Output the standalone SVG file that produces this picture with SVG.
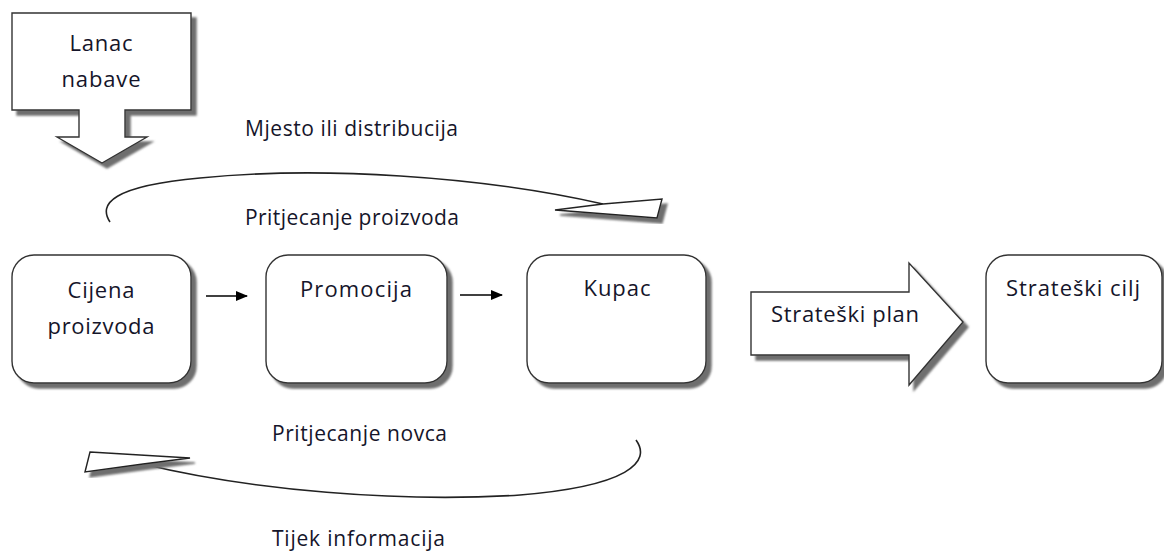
<svg xmlns="http://www.w3.org/2000/svg" width="1164" height="552" viewBox="0 0 1164 552">
<defs>
<filter id="sh" x="-10%" y="-10%" width="130%" height="140%">
<feDropShadow dx="5" dy="5" stdDeviation="1" flood-color="#6e6e6e" flood-opacity="1"/>
</filter>
<marker id="ah" markerWidth="12" markerHeight="10" refX="11" refY="5" orient="auto" markerUnits="userSpaceOnUse">
<path d="M0,0 L12,5 L0,10 Z" fill="#000"/>
</marker>
<style>
.box{fill:#fff;stroke:#333;stroke-width:1.4;filter:url(#sh)}
.t{font-family:"Open Sans","Liberation Sans",sans-serif;font-size:22px;fill:#15152a;text-anchor:middle}
.lbl{font-family:"Open Sans","Liberation Sans",sans-serif;font-size:21px;fill:#15152a}
.curve{fill:none;stroke:#222;stroke-width:1.6}
.head{fill:#fff;stroke:#222;stroke-width:1.4;stroke-linejoin:miter;filter:url(#sh)}
.sm{stroke:#000;stroke-width:1.5;fill:none}
</style>
</defs>
<rect width="1164" height="552" fill="#fff"/>

<g id="connectors">
<path class="curve" d="M110,222 C98,204 112,186 200,178 C320,166 480,176 603,204"/>
<polygon class="head" points="555,210 603,204 662,199 657,218"/>
<path class="curve" d="M636,440 C652,462 628,486 520,495 C400,503 250,490 143,464"/>
<polygon class="head" points="90,452 190,458 143,464 85,472"/>
<line class="sm" x1="206" y1="296" x2="247" y2="296" marker-end="url(#ah)"/>
<line class="sm" x1="460" y1="295" x2="502" y2="295" marker-end="url(#ah)"/>
</g>

<g id="lanac-nabave">
<path class="box" d="M12,13 H191 V110 H125 V137 H147 L102,163 L57,137 H79 V110 H12 Z"/>
<text class="t" x="101" y="51" font-size="24" textLength="63">Lanac</text>
<text class="t" x="101" y="87" font-size="24" textLength="79">nabave</text>
</g>

<g id="label-mjesto"><text class="lbl" x="245" y="136" textLength="213">Mjesto ili distribucija</text></g>
<g id="label-pritjecanje-proizvoda"><text class="lbl" x="245" y="225" textLength="214">Pritjecanje proizvoda</text></g>
<g id="label-pritjecanje-novca"><text class="lbl" x="272" y="441" textLength="175">Pritjecanje novca</text></g>
<g id="label-tijek"><text class="lbl" x="272" y="546" textLength="173">Tijek informacija</text></g>

<g id="cijena">
<rect class="box" x="12" y="255" width="179" height="128" rx="22" ry="22"/>
<text class="t" x="101" y="298" textLength="67">Cijena</text>
<text class="t" x="101" y="334" textLength="107">proizvoda</text>
</g>

<g id="promocija">
<rect class="box" x="266" y="255" width="181" height="128" rx="22" ry="22"/>
<text class="t" x="356" y="297" textLength="112">Promocija</text>
</g>

<g id="kupac">
<rect class="box" x="527" y="255" width="179" height="128" rx="22" ry="22"/>
<text class="t" x="617" y="296" textLength="67">Kupac</text>
</g>

<g id="strateski-plan">
<path class="box" d="M751,292 H909 V263 L963,322 L909,385 V355 H751 Z"/>
<text class="t" x="845" y="322" textLength="148">Strateški plan</text>
</g>

<g id="strateski-cilj">
<rect class="box" x="986" y="255" width="176" height="128" rx="22" ry="22"/>
<text class="t" x="1073" y="296" textLength="134">Strateški cilj</text>
</g>
</svg>
